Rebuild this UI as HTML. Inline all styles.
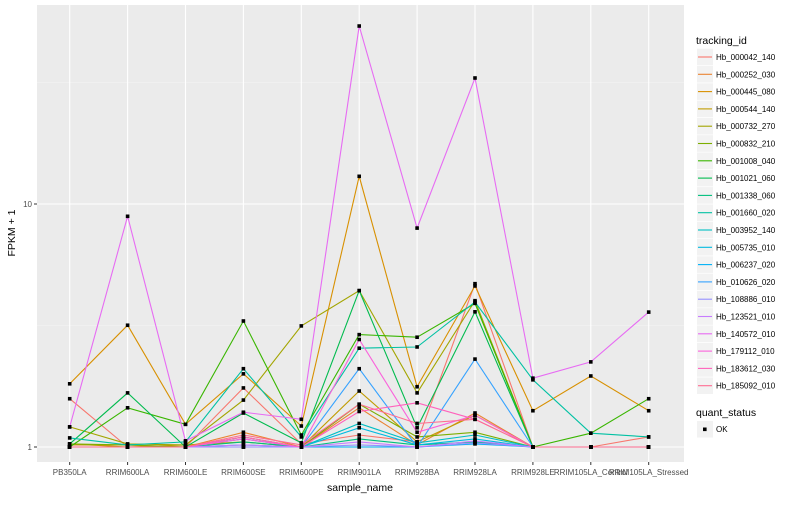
<!DOCTYPE html>
<html><head><meta charset="utf-8"><style>
body{margin:0;background:#fff;}
svg text{font-family:"Liberation Sans",sans-serif;}
</style></head><body>
<svg id="chart" width="800" height="500" xmlns="http://www.w3.org/2000/svg">
<rect x="0" y="0" width="800" height="500" fill="#fff"/>
<rect x="37" y="5" width="647" height="457" fill="#EBEBEB"/>
<g id="grid"></g>
<g id="lines"></g>
<g id="points"></g>
<g id="axes"></g>
<g id="legend"></g>
</svg>
<script>
const categories=["PB350LA","RRIM600LA","RRIM600LE","RRIM600SE","RRIM600PE","RRIM901LA","RRIM928BA","RRIM928LA","RRIM928LE","RRIM105LA_Control","RRIM105LA_Stressed"];
const seriesNames=["Hb_000042_140","Hb_000252_030","Hb_000445_080","Hb_000544_140","Hb_000732_270","Hb_000832_210","Hb_001008_040","Hb_001021_060","Hb_001338_060","Hb_001660_020","Hb_003952_140","Hb_005735_010","Hb_006237_020","Hb_010626_020","Hb_108886_010","Hb_123521_010","Hb_140572_010","Hb_179112_010","Hb_183612_030","Hb_185092_010"];
const colors=["#F8766D","#EA8331","#D89000","#C09B00","#A3A500","#7CAE00","#39B600","#00BB4E","#00BF7D","#00C1A3","#00BFC4","#00BAE0","#00B0F6","#35A2FF","#9590FF","#C77CFF","#E76BF3","#FA62DB","#FF62BC","#FF6C91"];
const s00=[1.58,1.0,1.0,1.75,1.03,1.12,1.05,4.7,1.0,1.0,1.1];
const s01=[1.02,1.02,1.0,1.15,1.0,1.45,1.02,1.38,1.0,1.0,1.0];
const s02=[1.82,3.17,1.24,2.0,1.22,13.0,1.77,4.6,1.41,1.96,1.41];
const s03=[1.03,1.0,1.02,1.05,1.0,1.7,1.05,1.35,1.0,1.0,1.0];
const s04=[1.21,1.03,1.02,1.56,3.15,4.4,1.67,4.0,1.0,1.0,1.0];
const s05=[1.03,1.02,1.0,1.1,1.0,1.5,1.1,1.15,1.0,1.0,1.0];
const s06=[1.0,1.45,1.24,3.3,1.12,2.9,2.83,3.9,1.0,1.14,1.58];
const s07=[1.03,1.67,1.0,1.38,1.04,4.4,1.2,3.6,1.0,1.0,1.0];
const s08=[1.0,1.0,1.0,1.05,1.0,1.08,1.02,1.05,1.0,1.0,1.0];
const s09=[1.09,1.02,1.05,2.1,1.1,2.55,2.58,3.95,1.89,1.14,1.1];
const s10=[1.0,1.0,1.0,1.08,1.0,1.25,1.04,1.12,1.0,1.0,1.0];
const s11=[1.0,1.0,1.0,1.02,1.0,1.2,1.02,1.08,1.0,1.0,1.0];
const s12=[1.0,1.0,1.0,1.0,1.0,1.0,1.0,1.03,1.0,1.0,1.0];
const s13=[1.0,1.0,1.0,1.0,1.0,2.1,1.0,2.3,1.0,1.0,1.0];
const s14=[1.0,1.0,1.0,1.0,1.0,1.02,1.0,1.04,1.0,1.0,1.0];
const s15=[1.0,1.0,1.0,1.02,1.0,1.05,1.0,1.06,1.0,1.0,1.0];
const s16=[1.21,8.9,1.06,1.39,1.3,54,7.96,33,1.92,2.24,3.59];
const s17=[1.0,1.0,1.0,1.08,1.0,2.77,1.15,1.35,1.0,1.0,1.0];
const s18=[1.0,1.0,1.0,1.1,1.0,1.4,1.52,1.3,1.0,1.0,1.0];
const s19=[1.0,1.0,1.0,1.12,1.02,1.5,1.25,1.3,1.0,1.0,1.0];
const seriesValues=[s00,s01,s02,s03,s04,s05,s06,s07,s08,s09,s10,s11,s12,s13,s14,s15,s16,s17,s18,s19];
const yTicks=[1,10];
const yMinor=[Math.sqrt(10),Math.sqrt(1000)];

const NS="http://www.w3.org/2000/svg";
function xScale(i){return 69.7+57.9*i;}
function yScale(v){return 447-243*Math.log10(v);}
function mk(tag,attrs,parent){const e=document.createElementNS(NS,tag);for(const k in attrs)e.setAttribute(k,attrs[k]);parent.appendChild(e);return e;}
const grid=document.getElementById('grid'),lines=document.getElementById('lines'),pts=document.getElementById('points'),axes=document.getElementById('axes'),leg=document.getElementById('legend');
yMinor.forEach(v=>{const l=mk('line',{x1:37,x2:684,y1:yScale(v),y2:yScale(v),stroke:'#F5F5F5','stroke-width':0.6},grid);

});
yTicks.forEach(v=>{const y=yScale(v);const l=mk('line',{x1:37,x2:684,y1:y,y2:y,stroke:'#fff','stroke-width':1.1},grid);


mk('line',{x1:34,x2:37,y1:y,y2:y,stroke:'#333','stroke-width':1},axes);
const t=mk('text',{x:32,y:y+3,'text-anchor':'end','font-size':8,fill:'#4D4D4D'},axes);t.textContent=String(v);

});
categories.forEach((c,i)=>{const x=xScale(i);const l=mk('line',{x1:x,x2:x,y1:5,y2:462,stroke:'#fff','stroke-width':1.1},grid);


mk('line',{x1:x,x2:x,y1:462,y2:465,stroke:'#333','stroke-width':1},axes);
const t=mk('text',{x:x,y:475,'text-anchor':'middle','font-size':8,fill:'#4D4D4D'},axes);t.textContent=c;

});
seriesValues.forEach((vals,si)=>{const d=vals.map((v,i)=>(i?'L':'M')+xScale(i).toFixed(1)+','+yScale(v).toFixed(1)).join(' ');
const p=mk('path',{d:d,fill:'none',stroke:colors[si],'stroke-width':1.1},lines);


vals.forEach((v,i)=>{const r=mk('rect',{x:xScale(i)-1.8,y:yScale(v)-1.8,width:3.6,height:3.6,fill:'#000'},pts);

});});
let t=mk('text',{x:360,y:491,'text-anchor':'middle','font-size':10.5,fill:'#000'},axes);t.textContent='sample_name';


t=mk('text',{x:0,y:0,'text-anchor':'middle','font-size':10.5,fill:'#000',transform:'translate(15,233) rotate(-90)'},axes);t.textContent='FPKM + 1';


t=mk('text',{x:696,y:44,'font-size':10.5,fill:'#000'},leg);t.textContent='tracking_id';


seriesNames.forEach((n,i)=>{const y=57+17.3*i;
const r=mk('rect',{x:697,y:y-8.3,width:16,height:16.6,fill:'#F2F2F2'},leg);


mk('line',{x1:698,x2:712,y1:y,y2:y,stroke:colors[i],'stroke-width':1.1},leg);
const tt=mk('text',{x:716,y:y+3,'font-size':8,fill:'#000'},leg);tt.textContent=n;

});
t=mk('text',{x:696,y:416,'font-size':10.5,fill:'#000'},leg);t.textContent='quant_status';


const kr=mk('rect',{x:697,y:421,width:16,height:16.6,fill:'#F2F2F2'},leg);


mk('rect',{x:703,y:427.5,width:3.6,height:3.6,fill:'#000'},leg);
t=mk('text',{x:716,y:432,'font-size':8,fill:'#000'},leg);t.textContent='OK';


</script>
</body></html>
